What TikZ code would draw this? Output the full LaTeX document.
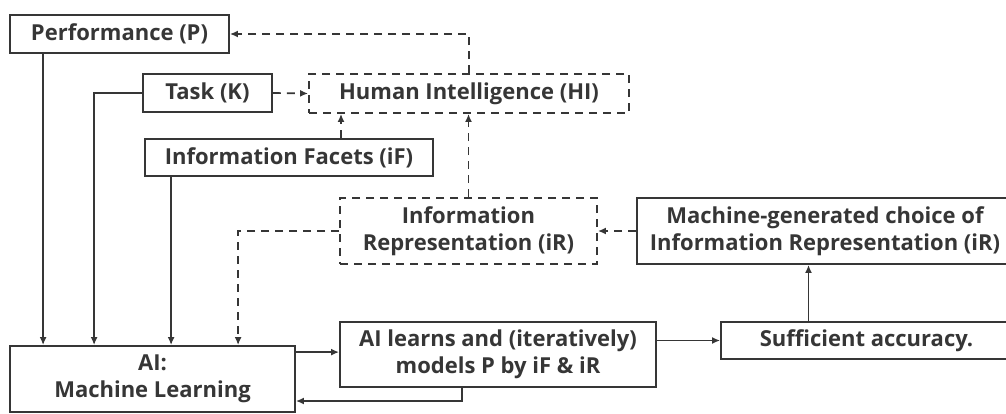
\documentclass[tikz,border=0pt]{standalone}
\usepackage{fontspec}
\setmainfont{Open Sans}
\usepackage{tikz}
\usetikzlibrary{arrows.meta, positioning}
\usepackage{xcolor}
\definecolor{ink}{HTML}{363636}

\begin{document}
\begin{tikzpicture}[x=1pt, y=-1pt, auto,
        box/.style={draw=ink, line width=1.8pt, text=ink, align=center, inner sep=0pt,
            font=\fontsize{22}{27}\selectfont\bfseries},
        dbox/.style={box, dash pattern=on 8pt off 6pt},
        arr/.style={draw=ink, line width=1.7pt, -{Latex[length=8pt,width=7pt]}},
        darr/.style={arr, dash pattern=on 8pt off 6pt}]
            \useasboundingbox (0,0) rectangle (1006,413);
            \node[box, minimum width=219pt, minimum height=38pt] (perf) at (119.5,34) {Performance (P)};
            \node[box, minimum width=129pt, minimum height=38pt] (task) at (207.5,93) {Task (K)};
            \node[dbox, minimum width=320pt, minimum height=39pt] (hi) at (469,93.5) {Human Intelligence (HI)};
            \node[box, minimum width=288pt, minimum height=37pt] (facets) at (289,157.5) {Information Facets (iF)};
            \node[dbox, minimum width=257pt, minimum height=66pt] (irep) at (468.5,231) {Information\\Representation (iR)};
            \node[box, minimum width=376pt, minimum height=66pt] (mgen) at (825,231) {Machine-generated choice of\\Information Representation (iR)};
            \node[box, minimum width=285pt, minimum height=66pt] (aiml) at (152.5,379) {AI:\\Machine Learning};
            \node[box, minimum width=316pt, minimum height=65pt] (learn) at (498,354.5) {AI learns and (iteratively)\\models P by iF \&{} iR};
            \node[box, minimum width=291pt, minimum height=37pt] (suff) at (866.5,340.5) {Sufficient accuracy.};
            % inputs of the machine learning box
            \draw[arr] ([xshift=34pt]perf.south west) -- ([xshift=34pt]aiml.north west);
            \draw[arr] (task.west) -| ([xshift=85pt]aiml.north west);
            \draw[arr] ([xshift=27pt]facets.south west) -- ([xshift=27pt]facets.south west |- aiml.north);
            \draw[darr] (irep.west) -| ([xshift=229pt]aiml.north west);
            % human side
            \draw[darr] (task.east) -- (hi.west);
            \draw[darr] ([xshift=52pt]facets.north) -- ([xshift=52pt]facets.north |- hi.south);
            \draw[darr] (hi.north) |- (perf.east);
            \draw[darr] (irep.north) -- (irep.north |- hi.south);
            % learning loop
            \draw[arr] ([yshift=-7pt]aiml.north east) -- ([yshift=-7pt]aiml.north east -| learn.west);
            \draw[arr] ([xshift=-36pt]learn.south) |- ([yshift=-22pt]aiml.east);
            \draw[arr] (learn.east |- suff.west) -- (suff.west);
            \draw[arr] ([xshift=-58pt]suff.north) -- ([xshift=-58pt]suff.north |- mgen.south);
            \draw[darr] (mgen.west) -- (irep.east);
        \end{tikzpicture}
\end{document}
